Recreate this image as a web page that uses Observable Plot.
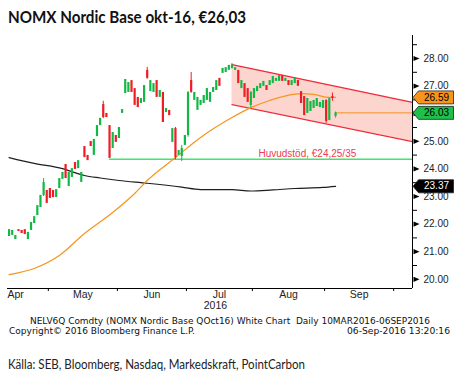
<!DOCTYPE html>
<html><head><meta charset="utf-8">
<script src="https://cdn.jsdelivr.net/npm/d3@7"></script>
<script src="https://cdn.jsdelivr.net/npm/@observablehq/plot@0.6"></script>
<style>
html,body{margin:0;padding:0;background:#fff;}
body{width:462px;height:376px;position:relative;overflow:hidden;}
.t{position:absolute;white-space:nowrap;line-height:1;transform-origin:left top;color:#111;}
</style></head>
<body>
<div id="title" class="t" style="left:8px;top:6px;font:bold 17px Lato, sans-serif;">NOMX Nordic Base okt-16, €26,03</div>
<div id="chart" style="position:absolute;left:0;top:28px"></div>
<div id="f1" class="t" style="left:30px;top:317px;font:8px 'DejaVu Sans', sans-serif;">NELV6Q Comdty (NOMX Nordic Base QOct16) White Chart&nbsp; Daily 10MAR2016-06SEP2016</div>
<div id="f2" class="t" style="left:9px;top:327px;font:8px 'DejaVu Sans', sans-serif;">Copyright© 2016 Bloomberg Finance L.P.</div>
<div id="f3" class="t" style="left:347px;top:327px;font:8px 'DejaVu Sans', sans-serif;">06-Sep-2016 13:20:16</div>
<div id="src" class="t" style="left:8px;top:355px;font:14px Lato, sans-serif;color:#222;">Källa: SEB, Bloomberg, Nasdaq, Markedskraft, PointCarbon</div>
<script>
// ---- data (trading-day index 0 = 13 Apr 2016) ----
const opens = [
21.55,21.59,21.44,21.80,21.77,21.80,21.44,21.77,22.02,22.31,
22.60,23.04,23.22,23.29,23.22,22.96,23.29,23.62,24.16,23.36,
23.69,24.23,24.01,23.51,24.81,24.49,24.99,24.49,25.17,25.57,
26.33,26.01,25.57,24.74,25.21,25.10,26.01,26.73,26.77,27.20,
26.91,26.59,26.37,26.41,27.57,26.80,26.77,27.20,26.59,26.77,
26.04,26.12,24.96,25.46,24.49,24.45,24.85,25.21,27.20,26.48,
26.12,26.30,26.37,26.48,26.41,26.77,26.84,27.28,27.46,27.49,
27.57,27.64,27.57,27.57,26.91,27.09,26.91,26.30,26.55,26.80,
26.91,26.99,27.02,27.02,27.09,27.17,27.17,27.38,27.17,27.20,
27.02,27.09,27.20,26.80,26.62,26.01,26.08,26.19,26.26,26.22,
26.19,26.48,25.75,26.62,25.90];
const closes = [
21.80,21.77,21.59,21.73,21.66,21.62,21.70,22.06,22.27,22.67,
23.04,23.51,22.75,22.93,22.96,23.25,23.65,23.87,23.65,23.87,
24.01,23.98,24.30,23.87,24.41,24.30,24.81,25.07,25.57,25.83,
25.86,25.86,24.38,25.32,24.96,25.50,26.15,27.24,27.13,26.77,
26.30,26.22,26.55,27.02,27.28,27.20,27.09,26.59,26.84,25.68,
26.19,25.93,25.46,24.41,24.67,24.74,25.21,26.77,26.77,26.77,
26.59,26.48,26.66,26.91,26.77,26.95,27.20,26.99,27.64,27.67,
27.75,27.75,27.67,27.09,27.20,26.59,26.41,26.77,26.91,26.99,
27.09,27.17,26.84,27.20,27.35,27.28,27.38,27.17,27.28,27.02,
27.20,27.28,26.99,26.37,25.93,26.55,26.44,26.48,26.55,26.41,
26.48,25.72,26.55,26.55,26.03];
const wickIdx  = [11, 30, 44, 53, 55, 57, 58, 71, 77, 101, 103, 104];
const wickHigh = [23.65, 26.45, 27.68, 25.50, 24.85, 26.80, 27.49, 27.82, 26.80, 26.50, 26.75, 26.06];
const wickLow  = [23.00, 25.82, 27.25, 24.33, 24.27, 25.15, 26.74, 27.62, 26.22, 25.65, 26.45, 25.84];

const ma200Idx = [0, 8, 17, 24, 29, 35, 44, 55, 61, 71, 77, 84, 91, 100, 104];
const ma200Val = [24.41, 24.20, 24.01, 23.76, 23.67, 23.58, 23.48, 23.34, 23.25, 23.25, 23.20, 23.24, 23.29, 23.33, 23.37];
const ma50Idx = [0, 8, 16, 24, 33, 40, 44, 53, 61, 71, 77, 83, 93, 97, 102, 104];
const ma50Val = [20.17, 20.39, 20.86, 21.66, 22.42, 23.11, 23.58, 24.41, 25.14, 25.86, 26.22, 26.48, 26.73, 26.70, 26.59, 26.59];

const channelStart = 71;
const channelTop = [27.78, 26.41];
const channelBottom = [26.33, 24.99];
const supportLevel = 24.35;
const supportStart = 32;
const supportText = "Huvudstöd, €24,25/35";
const supportLabelAt = 95;

const monthNames = ["Apr", "May", "Jun", "Jul", "Aug", "Sep"];
const yearLabel = "2016";
const yTicks = [20, 21, 22, 23, 24, 25, 26, 27, 28];
const yMinor = [20.5, 21.5, 22.5, 23.5, 24.5, 25.5, 26.5, 27.5, 28.5];

// ---- build ----
const GREEN = "#12b845", RED = "#ee1c25";
const xMin = -0.5, xMax = 128.5, yMin = 19.667, yMax = 28.833;
const fmt = d3.format(".2f");

const days = d3.timeDay.range(new Date(2016, 3, 13), new Date(2016, 9, 20)).filter(d => d.getDay() !== 0 && d.getDay() !== 6);
const monthStart = [];
days.forEach((d, i) => { if (i > 0 && d.getMonth() !== days[i - 1].getMonth()) monthStart.push(i); });
const tickPos = monthStart.slice(0, 6).map(i => i - 0.5);
const monthLbls = monthNames.slice(1).map((m, k) => ({i: (tickPos[k] + tickPos[k + 1]) / 2, t: m}));
const julMid = monthLbls[2].i;

const candles = opens.map((o, i) => ({i, o, c: closes[i]}));
const wicks = wickIdx.map((i, k) => ({i, hi: wickHigh[k], lo: wickLow[k], up: closes[i] >= opens[i]}));
const ma200 = ma200Idx.map((i, k) => ({i, v: ma200Val[k]}));
const ma50 = ma50Idx.map((i, k) => ({i, v: ma50Val[k]}));
const channel = [{i: channelStart, hi: channelTop[0], lo: channelBottom[0]}, {i: xMax, hi: channelTop[1], lo: channelBottom[1]}];
const supportLine = [{i: supportStart, v: supportLevel}, {i: xMax, v: supportLevel}];
const lastI = closes.length - 1;
const lastLine = [{i: lastI, v: closes[lastI]}, {i: xMax, v: closes[lastI]}];
const tags = [
  {v: ma50Val[ma50Val.length - 1], fill: "#f7941d", tc: "#000"},
  {v: closes[lastI], fill: "#1fbf4b", tc: "#000"},
  {v: ma200Val[ma200Val.length - 1], fill: "#000", tc: "#fff"}
];
// tick labels hidden behind a price tag are not drawn (as in the reference)
const yLabelTicks = yTicks.filter(t => !tags.some(g => Math.abs(g.v - t) < 0.25));

const arrow = {draw(ctx) { ctx.moveTo(1, -2.6); ctx.lineTo(7, 0); ctx.lineTo(1, 2.6); ctx.closePath(); }};
const tag = {draw(ctx) { ctx.moveTo(0.5, 0); ctx.lineTo(6, -6.5); ctx.lineTo(41, -6.5); ctx.lineTo(41, 6.5); ctx.lineTo(6, 6.5); ctx.closePath(); }};

const chart = Plot.plot({
  width: 462, height: 288,
  marginTop: 7, marginBottom: 28, marginLeft: 7, marginRight: 50,
  x: {domain: [xMin, xMax], label: null},
  y: {domain: [yMin, yMax], label: null},
  style: {fontFamily: "'Liberation Sans', Arial, sans-serif", fontSize: "10px", background: "#fff", color: "#222", overflow: "visible"},
  marks: [
    Plot.areaY(channel, {x: "i", y1: "lo", y2: "hi", fill: "#fdd5cf"}),
    Plot.line(channel, {x: "i", y: "hi", stroke: "#ef2b3a", strokeWidth: 1.3}),
    Plot.line(channel, {x: "i", y: "lo", stroke: "#ef2b3a", strokeWidth: 1.3}),
    Plot.line(supportLine, {x: "i", y: "v", stroke: "#3be86b", strokeWidth: 1.4}),
    Plot.text([{i: supportLabelAt, v: supportLevel, t: supportText}], {x: "i", y: "v", text: "t", dy: -5, fill: "#ee3b50", fontSize: 10}),
    Plot.line(ma200, {x: "i", y: "v", stroke: "#1e1e1e", strokeWidth: 1.2, curve: "monotone-x"}),
    Plot.line(ma50, {x: "i", y: "v", stroke: "#f7941d", strokeWidth: 1.2, curve: "monotone-x"}),
    Plot.line(lastLine, {x: "i", y: "v", stroke: "#f7941d", strokeWidth: 1}),
    Plot.ruleX(wicks, {x: "i", y1: "lo", y2: "hi", stroke: d => d.up ? GREEN : RED, strokeWidth: 1}),
    Plot.ruleX(candles, {x: "i", y1: "o", y2: "c", stroke: d => d.c >= d.o ? GREEN : RED, strokeWidth: 2.2}),
    Plot.ruleY([yMin], {stroke: "#000"}),
    Plot.ruleX([xMax], {stroke: "#000"}),
    Plot.axisX({ticks: tickPos, tickSize: 3, tickFormat: () => "", stroke: "#000", label: null}),
    Plot.text([{i: xMin, t: monthNames[0]}], {x: "i", text: "t", frameAnchor: "bottom", dy: 9, textAnchor: "start", fill: "#222", fontSize: 10.5}),
    Plot.text(monthLbls, {x: "i", text: "t", frameAnchor: "bottom", dy: 9, textAnchor: "middle", fill: "#222", fontSize: 10.5}),
    Plot.text([{i: julMid, t: yearLabel}], {x: "i", text: "t", frameAnchor: "bottom", dy: 20, dx: -4, textAnchor: "middle", fill: "#222", fontSize: 10.5}),
    Plot.axisY({anchor: "right", ticks: yMinor, tickSize: 4, tickFormat: () => "", stroke: "#000", label: null}),
    Plot.axisY({anchor: "right", ticks: yLabelTicks, tickSize: 0, tickPadding: 11, tickFormat: fmt, fill: "#222", label: null}),
    Plot.dot(yTicks, {y: d => d, frameAnchor: "right", symbol: arrow, r: 3, fill: "#000"}),
    Plot.dot(tags, {y: "v", frameAnchor: "right", symbol: tag, r: 3, fill: "fill", stroke: "#222", strokeWidth: 0.8}),
    Plot.text(tags, {y: "v", frameAnchor: "right", dx: 24, textAnchor: "middle", text: d => fmt(d.v), fill: "tc", fontSize: 10})
  ]
});
document.getElementById("chart").appendChild(chart);

function fit(id, w, origin) {
  const el = document.getElementById(id);
  el.style.transform = "none";
  const r = el.getBoundingClientRect().width;
  if (r > 0) { el.style.transformOrigin = origin || "left top"; el.style.transform = "scaleX(" + (w / r) + ")"; }
}
function fitAll() {
  fit("title", 238); fit("f1", 400); fit("f2", 186); fit("f3", 103); fit("src", 297);
}
fitAll();
if (document.fonts && document.fonts.ready) document.fonts.ready.then(fitAll);
</script>
</body></html>
